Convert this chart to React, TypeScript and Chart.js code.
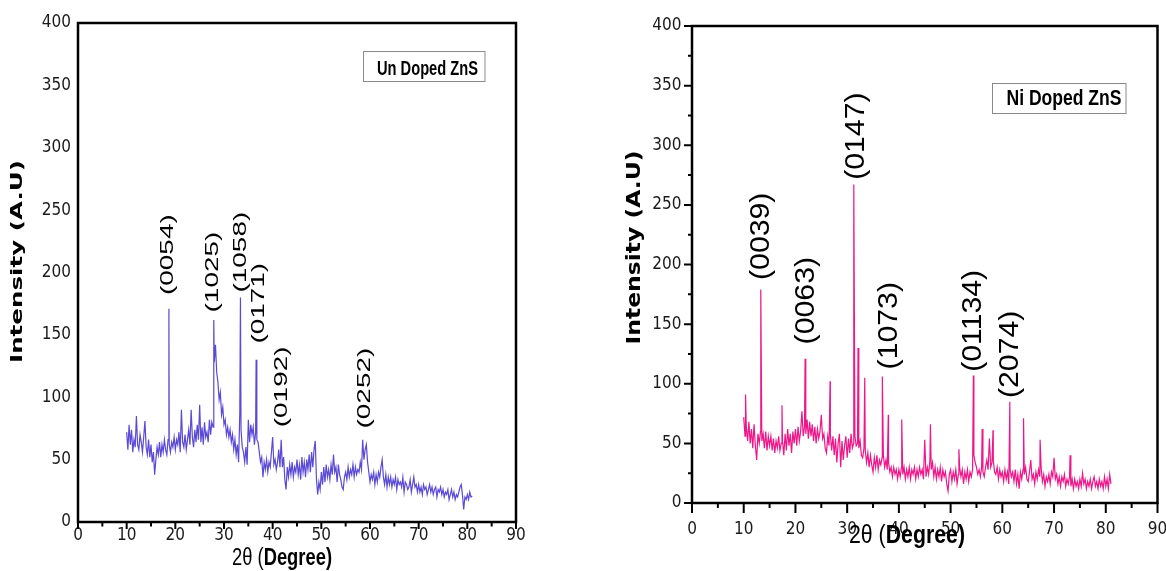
import React, { useEffect, useRef } from "react";
import { Chart, registerables } from "chart.js";

Chart.register(...registerables);

// ---------- data ----------
const GRID_START = 10;
const GRID_STEP = 0.25;

// Un-doped ZnS: scan read every 0.25 degree from 10 to 81
const undopedBase = [
  72, 58, 78, 62, 74, 56, 66, 60, 85, 62, 58, 70, 64, 56, 68, 81, 60, 54, 66, 52,
  62, 48, 56, 38, 50, 60, 54, 64, 52, 62, 56, 66, 58, 54, 66, 62, 56, 64, 60, 68,
  58, 66, 62, 72, 56, 90, 64, 60, 70, 58, 66, 74, 62, 90, 68, 60, 74, 64, 78, 66,
  94, 64, 76, 62, 80, 68, 72, 64, 82, 70, 80, 76, 128, 142, 120, 112, 98, 104, 86, 92,
  78, 82, 70, 76, 68, 74, 64, 70, 58, 66, 54, 62, 48, 88, 74, 60, 56, 48, 60, 46,
  82, 64, 78, 70, 76, 62, 72, 66, 64, 56, 48, 52, 36, 48, 42, 50, 40, 48, 44, 56,
  68, 46, 50, 42, 48, 58, 44, 66, 44, 52, 34, 26, 44, 36, 46, 38, 48, 36, 44, 40,
  50, 38, 46, 34, 52, 40, 48, 36, 50, 42, 54, 40, 56, 44, 58, 65, 34, 22, 32, 26,
  40, 30, 44, 32, 46, 36, 42, 34, 46, 38, 54, 40, 44, 32, 46, 38, 34, 28, 26, 36,
  40, 34, 44, 36, 42, 38, 46, 36, 44, 38, 42, 40, 48, 42, 66, 50, 58, 62, 48, 40,
  32, 38, 34, 40, 30, 38, 32, 40, 36, 44, 50, 36, 30, 38, 28, 36, 30, 36, 28, 34,
  30, 36, 26, 34, 30, 32, 28, 36, 24, 32, 30, 26, 28, 34, 24, 30, 36, 28, 30, 24,
  30, 24, 28, 22, 30, 26, 28, 22, 26, 30, 24, 28, 22, 26, 28, 20, 26, 24, 28, 22,
  26, 20, 24, 22, 26, 18, 22, 26, 20, 24, 18, 22, 20, 24, 28, 30, 22, 10, 20, 18,
  22, 18, 24, 20, 21,
];
const undopedPeakAngles = [18.68, 27.9, 33.38, 36.6];
const undopedPeakValues = [171, 162, 180, 130];

const undopedLabels = ["(0054)", "(1025)", "(1058)", "(0171)", "(0192)", "(0252)"];
const undopedLabelAngles = [18.6, 27.8, 33.55, 37.25, 42.0, 59.0];
const undopedLabelBases = [182, 168, 184, 143, 76, 75];

// Ni doped ZnS
const niBase = [
  72, 56, 64, 52, 68, 50, 62, 46, 66, 48, 36, 58, 50, 60, 52, 58, 46, 60, 44, 56,
  48, 56, 44, 54, 42, 52, 46, 56, 44, 50, 52, 40, 58, 44, 62, 48, 58, 42, 60, 50,
  62, 48, 64, 52, 60, 77, 56, 64, 58, 70, 54, 68, 56, 66, 52, 64, 50, 62, 54, 60,
  74, 54, 58, 46, 42, 56, 48, 58, 44, 56, 40, 54, 34, 50, 58, 30, 52, 36, 48, 56,
  38, 54, 42, 58, 46, 50, 56, 48, 50, 46, 52, 40, 38, 46, 44, 34, 42, 30, 40, 32,
  26, 38, 30, 40, 28, 36, 32, 38, 40, 30, 36, 28, 34, 26, 30, 22, 30, 24, 28, 20,
  28, 22, 30, 24, 30, 20, 28, 22, 30, 20, 28, 24, 30, 20, 28, 22, 30, 24, 28, 20,
  53, 22, 30, 24, 36, 28, 34, 22, 30, 20, 28, 22, 30, 18, 28, 22, 26, 16, 10, 24,
  28, 18, 26, 20, 28, 16, 24, 30, 22, 28, 16, 26, 20, 28, 18, 26, 22, 28, 40, 34,
  30, 24, 28, 22, 30, 26, 22, 30, 36, 28, 54, 30, 34, 36, 26, 24, 30, 20, 28, 22,
  26, 18, 28, 20, 26, 16, 28, 22, 26, 18, 28, 16, 24, 12, 26, 20, 28, 24, 30, 20,
  18, 26, 36, 20, 24, 16, 26, 20, 28, 22, 30, 18, 24, 14, 22, 18, 24, 16, 26, 22,
  38, 20, 24, 16, 22, 14, 22, 18, 24, 14, 20, 16, 22, 14, 20, 12, 20, 14, 18, 12,
  20, 14, 25, 16, 20, 12, 18, 14, 20, 12, 18, 22, 14, 18, 12, 20, 14, 18, 12, 22,
  14, 20, 12, 24, 16,
];
const niPeakAngles = [10.35, 13.3, 17.4, 21.87, 26.7, 31.28, 32.1, 33.4, 36.8, 37.95, 40.55, 46.1, 51.6, 54.4, 56.1, 58.2, 61.45, 64.1, 67.3, 73.1];
const niPeakValues = [91, 179, 82, 121, 102, 267, 130, 105, 106, 74, 70, 66, 45, 107, 62, 61, 85, 71, 53, 40];

const niLabels = ["(0039)", "(0063)", "(0147)", "(1073)", "(01134)", "(2074)"];
const niLabelAngles = [13.5, 22.2, 31.9, 38.2, 54.5, 61.5];
const niLabelBases = [187, 133, 271, 112, 110, 88];

const xTickMin = 0;
const xTickMax = 90;
const yTickMin = 0;
const yTickMax = 400;

// ---------- helpers ----------
type Pt = { x: number; y: number };

function buildSeries(base: number[], peakAngles: number[], peakValues: number[]): Pt[] {
  const pts: Pt[] = base.map((v, i) => ({ x: GRID_START + i * GRID_STEP, y: v }));
  peakAngles.forEach((a, i) => pts.push({ x: a, y: peakValues[i] }));
  pts.sort((p, q) => p.x - q.x);
  return pts;
}

const SANS = "'Liberation Sans', Arial, sans-serif";
const NARROW = "'Liberation Sans Narrow', 'DejaVu Sans Condensed', 'Liberation Sans', sans-serif";
const WIDE = "'DejaVu Sans', Verdana, sans-serif";

interface Spec {
  series: Pt[];
  color: string;
  labels: string[];
  labelAngles: number[];
  labelBases: number[];
  padTop: number;
  padRight: number;
  yAxisWidth: number;
  xAxisHeight: number;
  xTickPad: number;
  yTickPad: number;
  xMajor: number;
  xMinor: number;
  yMajor: number;
  yMinor: number;
  annSize: number;
  annScale: number;
  legendText: string;
  legendBox: [number, number, number, number];
  legendX: number;
  legendBase: number;
  legendSize: number;
  legendWidth: number;
  xTitleX: number;
  xTitleBase: number;
  xTitleSize: number;
  xTitleWidth: number;
  yTitleCx: number;
  yTitleCy: number;
  yTitleSize: number;
  yTitleLen: number;
}

function decorPlugin(spec: Spec) {
  return {
    id: "decor",
    afterDatasetsDraw(chart: any) {
      const { ctx, chartArea: a, scales } = chart;
      const xs = scales.x;
      const ys = scales.y;
      ctx.save();

      // peak annotations (rotated)
      ctx.fillStyle = "#000";
      ctx.font = `${spec.annSize}px ${SANS}`;
      ctx.textAlign = "left";
      ctx.textBaseline = "middle";
      spec.labels.forEach((t, i) => {
        const px = xs.getPixelForValue(spec.labelAngles[i]);
        const py = ys.getPixelForValue(spec.labelBases[i]);
        ctx.save();
        ctx.translate(px, py);
        ctx.rotate(-Math.PI / 2);
        ctx.scale(spec.annScale, 1);
        ctx.fillText(t, 0, 0);
        ctx.restore();
      });

      // frame
      ctx.strokeStyle = "#000";
      ctx.lineWidth = 2.5;
      ctx.strokeRect(a.left, a.top, a.right - a.left, a.bottom - a.top);

      // tick marks
      ctx.lineWidth = 2;
      ctx.beginPath();
      for (let v = xTickMin; v <= xTickMax; v += 5) {
        const px = xs.getPixelForValue(v);
        const len = v % 10 === 0 ? spec.xMajor : spec.xMinor;
        ctx.moveTo(px, a.bottom);
        ctx.lineTo(px, a.bottom + len);
      }
      if (spec.yMajor > 0) {
        for (let v = yTickMin; v <= yTickMax; v += 25) {
          const py = ys.getPixelForValue(v);
          const len = v % 50 === 0 ? spec.yMajor : spec.yMinor;
          ctx.moveTo(a.left, py);
          ctx.lineTo(a.left - len, py);
        }
      }
      ctx.stroke();

      // legend box
      const [bx, by, bw, bh] = spec.legendBox;
      ctx.strokeStyle = "#8a8a8a";
      ctx.lineWidth = 1;
      ctx.strokeRect(bx, by, bw, bh);
      ctx.fillStyle = "#000";
      ctx.font = `bold ${spec.legendSize}px ${SANS}`;
      ctx.textAlign = "left";
      ctx.textBaseline = "alphabetic";
      {
        const w = ctx.measureText(spec.legendText).width;
        ctx.save();
        ctx.translate(spec.legendX, spec.legendBase);
        ctx.scale(spec.legendWidth / w, 1);
        ctx.fillText(spec.legendText, 0, 0);
        ctx.restore();
      }

      // x title: "2θ (" regular + "Degree)" bold
      {
        ctx.font = `${spec.xTitleSize}px ${SANS}`;
        const t1 = "2θ (";
        const w1 = ctx.measureText(t1).width;
        ctx.font = `bold ${spec.xTitleSize}px ${SANS}`;
        const t2 = "Degree)";
        const w2 = ctx.measureText(t2).width;
        const s = spec.xTitleWidth / (w1 + w2);
        ctx.save();
        ctx.translate(spec.xTitleX, spec.xTitleBase);
        ctx.scale(s, 1);
        ctx.font = `${spec.xTitleSize}px ${SANS}`;
        ctx.fillText(t1, 0, 0);
        ctx.font = `bold ${spec.xTitleSize}px ${SANS}`;
        ctx.fillText(t2, w1, 0);
        ctx.restore();
      }

      // y title
      {
        const t = "Intensity (A.U)";
        ctx.font = `bold ${spec.yTitleSize}px ${WIDE}`;
        ctx.textAlign = "center";
        ctx.textBaseline = "middle";
        const w = ctx.measureText(t).width;
        ctx.save();
        ctx.translate(spec.yTitleCx, spec.yTitleCy);
        ctx.rotate(-Math.PI / 2);
        ctx.scale(spec.yTitleLen / w, 1);
        ctx.fillText(t, 0, 0);
        ctx.restore();
      }

      ctx.restore();
    },
  };
}

function makeChart(canvas: HTMLCanvasElement, spec: Spec) {
  return new Chart(canvas, {
    type: "line",
    data: {
      datasets: [
        {
          data: spec.series as any,
          borderColor: spec.color,
          borderWidth: 1.2,
          pointRadius: 0,
          tension: 0,
          fill: false,
        },
      ],
    },
    options: {
      animation: false,
      responsive: false,
      maintainAspectRatio: false,
      parsing: false as any,
      layout: { padding: { left: 0, top: spec.padTop, right: spec.padRight, bottom: 0 } },
      plugins: { legend: { display: false }, tooltip: { enabled: false } },
      scales: {
        x: {
          type: "linear",
          min: xTickMin,
          max: xTickMax,
          grid: { display: false, drawTicks: false },
          border: { display: false },
          ticks: {
            stepSize: 10,
            autoSkip: false,
            maxRotation: 0,
            padding: spec.xTickPad,
            color: "#1a1a1a",
            font: { family: NARROW, size: 17 },
          },
          afterFit: (s: any) => {
            s.height = spec.xAxisHeight;
            s.paddingLeft = 0;
            s.paddingRight = 0;
          },
        },
        y: {
          type: "linear",
          min: yTickMin,
          max: yTickMax,
          grid: { display: false, drawTicks: false },
          border: { display: false },
          ticks: {
            stepSize: 50,
            padding: spec.yTickPad,
            color: "#1a1a1a",
            font: { family: NARROW, size: 17 },
          },
          afterFit: (s: any) => {
            s.width = spec.yAxisWidth;
            s.paddingTop = 0;
            s.paddingBottom = 0;
          },
        },
      },
    },
    plugins: [decorPlugin(spec)],
  } as any);
}

const leftSpec: Spec = {
  series: buildSeries(undopedBase, undopedPeakAngles, undopedPeakValues),
  color: "#5a4ad4",
  labels: undopedLabels,
  labelAngles: undopedLabelAngles,
  labelBases: undopedLabelBases,
  padTop: 23,
  padRight: 67,
  yAxisWidth: 78,
  xAxisHeight: 49,
  xTickPad: 3,
  yTickPad: 7,
  xMajor: 7,
  xMinor: 4.5,
  yMajor: 0,
  yMinor: 0,
  annSize: 18,
  annScale: 1.55,
  legendText: "Un Doped ZnS",
  legendBox: [363.5, 51.5, 121.5, 30],
  legendX: 377,
  legendBase: 75,
  legendSize: 21,
  legendWidth: 101,
  xTitleX: 232,
  xTitleBase: 565,
  xTitleSize: 23,
  xTitleWidth: 100,
  yTitleCx: 18.5,
  yTitleCy: 261.5,
  yTitleSize: 15,
  yTitleLen: 203,
};

const rightSpec: Spec = {
  series: buildSeries(niBase, niPeakAngles, niPeakValues),
  color: "#ee1688",
  labels: niLabels,
  labelAngles: niLabelAngles,
  labelBases: niLabelBases,
  padTop: 26,
  padRight: 8.5,
  yAxisWidth: 109,
  xAxisHeight: 68,
  xTickPad: 16,
  yTickPad: 10.5,
  xMajor: 10,
  xMinor: 5,
  yMajor: 8,
  yMinor: 4,
  annSize: 27,
  annScale: 1.12,
  legendText: "Ni Doped ZnS",
  legendBox: [409.5, 83.5, 133.5, 30],
  legendX: 423.5,
  legendBase: 105,
  legendSize: 22,
  legendWidth: 115,
  xTitleX: 266,
  xTitleBase: 543,
  xTitleSize: 26,
  xTitleWidth: 116,
  yTitleCx: 52,
  yTitleCy: 247.5,
  yTitleSize: 19,
  yTitleLen: 194,
};

export default function App() {
  const leftRef = useRef<HTMLCanvasElement>(null);
  const rightRef = useRef<HTMLCanvasElement>(null);

  useEffect(() => {
    const c1 = makeChart(leftRef.current as HTMLCanvasElement, leftSpec);
    const c2 = makeChart(rightRef.current as HTMLCanvasElement, rightSpec);
    return () => {
      c1.destroy();
      c2.destroy();
    };
  }, []);

  return (
    <div
      style={{
        position: "fixed",
        left: 0,
        top: 0,
        width: 1166,
        height: 571,
        background: "#fff",
        overflow: "hidden",
      }}
    >
      <canvas
        ref={leftRef}
        width={583}
        height={571}
        style={{ position: "absolute", left: 0, top: 0, width: 583, height: 571 }}
      />
      <canvas
        ref={rightRef}
        width={583}
        height={571}
        style={{ position: "absolute", left: 583, top: 0, width: 583, height: 571 }}
      />
    </div>
  );
}
